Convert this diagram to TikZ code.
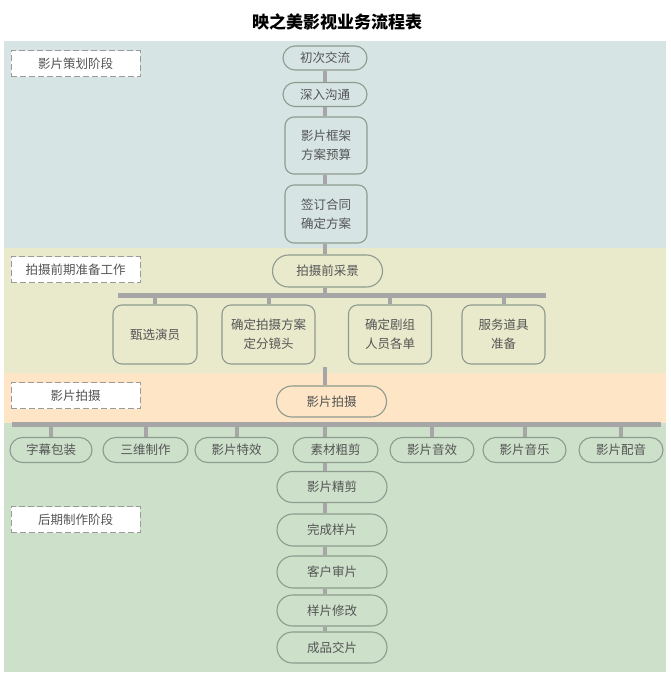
\documentclass[tikz,border=0pt]{standalone}
\usepackage{fontspec}
\setmainfont{Noto Sans CJK SC}
\usetikzlibrary{shapes.misc,calc}
\definecolor{bandA}{HTML}{D6E4E3}
\definecolor{bandB}{HTML}{E9EACC}
\definecolor{bandC}{HTML}{FDE5C6}
\definecolor{bandD}{HTML}{CCE0CA}
\definecolor{nodeline}{HTML}{8E9B8E}
\definecolor{nodetext}{HTML}{555555}
\definecolor{conn}{HTML}{A6A6A6}
\definecolor{dashline}{HTML}{9A9A9A}
\tikzset{
  pill/.style={rounded rectangle, draw=nodeline, line width=1.1pt, text=nodetext,
    font=\fontsize{12.5}{18}\selectfont, inner sep=0pt, minimum height=31pt, minimum width=110pt},
  smallpill/.style={pill, minimum height=24pt},
  roundbox/.style={rectangle, rounded corners=9pt, draw=nodeline, line width=1.1pt, text=nodetext,
    font=\fontsize{12.5}{19}\selectfont, align=center, inner sep=0pt, minimum height=58pt},
  stagelabel/.style={rectangle, draw=dashline, dash pattern=on 6pt off 3pt, line width=1pt,
    fill=white, text=nodetext, font=\fontsize{12.5}{15}\selectfont, inner sep=0pt,
    minimum width=129pt, minimum height=26pt},
  link/.style={draw=conn, line width=4pt},
  bar/.style={draw=conn, line width=5pt},
}
\begin{document}
\begin{tikzpicture}[x=1pt,y=-1pt]
\useasboundingbox (0,0) rectangle (670,676);
\fill[white] (0,0) rectangle (670,676);
% bands
\fill[bandA] (4,41) rectangle (666,248);
\fill[bandB] (4,248) rectangle (666,373);
\fill[bandC] (4,373) rectangle (666,423);
\fill[bandD] (4,423) rectangle (666,672);
% title
\node[font=\fontsize{17}{20}\selectfont\bfseries] (title) at (337,22) {映之美影视业务流程表};
% stage labels
\node[stagelabel] (s1) at (75.5,64) {影片策划阶段};
\node[stagelabel] (s2) at (75.5,269.5) {拍摄前期准备工作};
\node[stagelabel] (s3) at (75.5,395.5) {影片拍摄};
\node[stagelabel] (s4) at (75.5,519.5) {后期制作阶段};
% trunk x
\coordinate (trunk) at (325,0);
% stage 1
\node[smallpill, minimum width=84pt] (n1) at (325,58) {初次交流};
\node[smallpill, minimum width=84pt] (n2) at (325,94.5) {深入沟通};
\node[roundbox, minimum width=82pt, minimum height=57pt] (n3) at (326,145.5) {影片框架\\方案预算};
\node[roundbox, minimum width=82pt] (n4) at (326,214) {签订合同\\确定方案};
% stage 2
\node[pill, minimum height=32pt] (n5) at (327.5,271) {拍摄前采景};
\coordinate (b1l) at (118,295);
\coordinate (b1r) at (546,295);
\node[roundbox, minimum width=84pt, minimum height=59pt] (c1) at (155,334.5) {甄选演员};
\node[roundbox, minimum width=93pt, minimum height=59pt] (c2) at (268.5,334.5) {确定拍摄方案\\定分镜头};
\node[roundbox, minimum width=83pt, minimum height=59pt] (c3) at (390,334.5) {确定剧组\\人员各单};
\node[roundbox, minimum width=83pt, minimum height=59pt] (c4) at (503.5,334.5) {服务道具\\准备};
\coordinate (t2) at (325,367);
% stage 3
\node[pill] (n6) at (331.5,401.5) {影片拍摄};
\coordinate (b2l) at (12,424);
\coordinate (b2r) at (661,424);
\node[pill, minimum height=25pt, minimum width=82pt] (d1) at (51,450) {字幕包装};
\node[pill, minimum height=25pt, minimum width=85pt] (d2) at (145.5,450) {三维制作};
\node[pill, minimum height=25pt, minimum width=83pt] (d3) at (236.5,450) {影片特效};
\node[pill, minimum height=25pt, minimum width=85pt] (d4) at (335.5,450) {素材粗剪};
\node[pill, minimum height=25pt, minimum width=84pt] (d5) at (432,450) {影片音效};
\node[pill, minimum height=25pt, minimum width=83pt] (d6) at (524.5,450) {影片音乐};
\node[pill, minimum height=25pt, minimum width=84pt] (d7) at (621,450) {影片配音};
% stage 4
\node[pill] (e1) at (332,487) {影片精剪};
\node[pill, minimum height=32pt] (e2) at (332,530) {完成样片};
\node[pill, minimum height=32pt] (e3) at (332,572) {客户审片};
\node[pill] (e4) at (332,610.5) {样片修改};
\node[pill] (e5) at (332,647.5) {成品交片};
% connectors
\draw[link] (n1.south -| trunk) -- (n2.north -| trunk);
\draw[link] (n2.south -| trunk) -- (n3.north -| trunk);
\draw[link] (n3.south -| trunk) -- (n4.north -| trunk);
\draw[link] (n4.south -| trunk) -- (n5.north -| trunk);
\draw[link] (n5.south -| trunk) -- (b1l -| trunk);
\draw[bar] (b1l) -- (b1r);
\foreach \c in {c1,c2,c3,c4} \draw[link] (\c.north |- b1l) -- (\c.north);
\draw[link] (t2) -- (n6.north -| trunk);
\draw[bar] (b2l) -- (b2r);
\foreach \d in {d1,d2,d3,d5,d6,d7} \draw[link] (\d.north |- b2l) -- (\d.north);
\draw[link] (trunk |- b2l) -- (d4.north -| trunk);
\draw[link] (d4.south -| trunk) -- (e1.north -| trunk);
\draw[link] (e1.south -| trunk) -- (e2.north -| trunk);
\draw[link] (e2.south -| trunk) -- (e3.north -| trunk);
\draw[link] (e3.south -| trunk) -- (e4.north -| trunk);
\draw[link] (e4.south -| trunk) -- (e5.north -| trunk);
\end{tikzpicture}
\end{document}
